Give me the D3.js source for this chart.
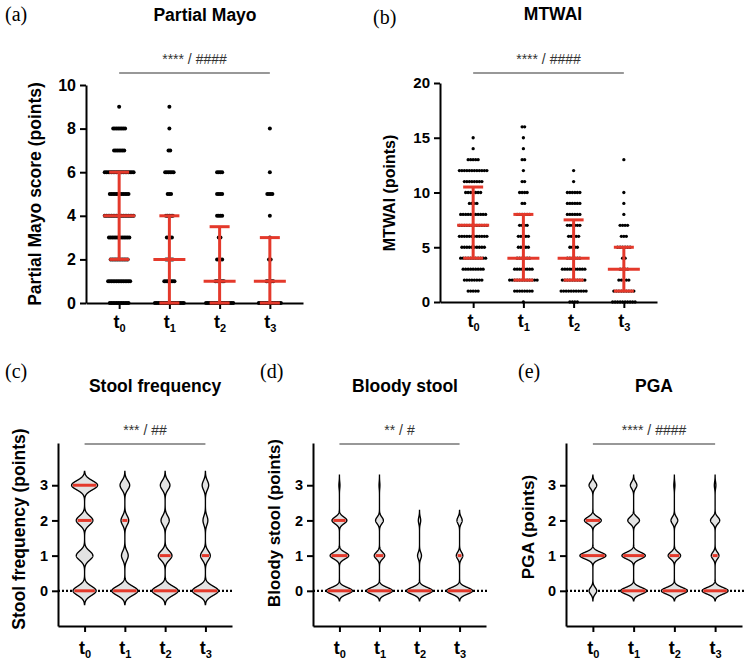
<!DOCTYPE html>
<html><head><meta charset="utf-8">
<script src="https://cdn.jsdelivr.net/npm/d3@7"></script>
<style>
body{margin:0;background:#fff}
svg{display:block}
</style></head><body>
<svg id="c" width="745" height="661"></svg>
<script>
// ---------------- DATA ----------------
const categories = ["t0", "t1", "t2", "t3"];

// (a) Partial Mayo: number of patients per score 0..9 (per time point)
const mayoCounts = [
  [12, 14, 11, 13, 18, 12, 18, 7, 8, 1],
  [18, 7, 5, 4, 5, 3, 6, 2, 1, 1],
  [17, 6, 4, 2, 4, 4, 4, 0, 0, 0],
  [14, 5, 2, 1, 1, 4, 1, 0, 1, 0]
];
const mayoMedian = [4, 2, 1, 1];
const mayoQ1 = [2, 0, 0, 0];
const mayoQ3 = [6, 4, 3.5, 3];
const mayoTicks = [0, 2, 4, 6, 8, 10];

// (b) MTWAI: number of patients per score 0..16
const mtwaiCounts = [
  [0, 5, 8, 9, 11, 10, 12, 12, 11, 4, 7, 8, 12, 5, 1, 1, 0],
  [1, 8, 12, 8, 6, 5, 5, 4, 6, 2, 4, 2, 1, 2, 1, 1, 2],
  [4, 11, 10, 10, 6, 4, 5, 6, 6, 6, 6, 1, 1, 0, 0, 0, 0],
  [10, 9, 5, 4, 2, 6, 3, 4, 1, 1, 1, 0, 0, 1, 0, 0, 0]
];
const mtwaiMedian = [7, 4, 4, 3];
const mtwaiQ1 = [4, 2, 2, 1];
const mtwaiQ3 = [10.5, 8, 7.5, 5];
const mtwaiTicks = [0, 5, 10, 15, 20];

// (c)-(e) sub-scores: number of patients per level 0..3
const levels = [0, 1, 2, 3];
const subTicks = [0, 1, 2, 3];
const stoolCounts = [[32, 23, 23, 36], [27, 7, 8, 10], [19, 10, 6, 7], [16, 6, 3, 4]];
const stoolQuartiles = [[0, 2, 3], [0, 0, 2], [0, 1, 1], [0, 0, 1]];
const bloodCounts = [[49, 35, 28, 2], [30, 12, 9, 1], [33, 5, 3, 0], [20, 5, 4, 0]];
const bloodQuartiles = [[0, 1, 2], [0, 0, 1], [0, 0, 0], [0, 0, 1]];
const pgaCounts = [[15, 51, 33, 15], [20, 18, 9, 5], [23, 11, 6, 1], [17, 5, 6, 1]];
const pgaQuartiles = [[1, 1, 2], [0, 1, 1], [0, 1, 1], [0, 0, 1]];

const sigLabels = ["**** / ####", "**** / ####", "*** / ##", "** / #", "**** / ####"];

// ---------------- DRAWING ----------------
const SANS = "'Liberation Sans', Arial, Helvetica, sans-serif";
const SERIF = "'Liberation Serif', 'Times New Roman', serif";
const RED = "#e4392b";
const svg = d3.select("#c");

function styleAxis(g, fs) {
  g.select(".domain").attr("stroke", "#000").attr("stroke-width", 2);
  g.selectAll(".tick line").attr("stroke", "#000").attr("stroke-width", 2);
  g.selectAll(".tick text").attr("font-family", SANS).attr("font-weight", "bold")
    .attr("font-size", fs).attr("fill", "#000");
}

function drawAxes(c, x, y, ticks) {
  const gy = svg.append("g").attr("transform", `translate(${c.left},0)`)
    .call(d3.axisLeft(y).tickValues(ticks).tickFormat(d3.format("d"))
      .tickSize(6).tickSizeOuter(0).tickPadding(4));
  styleAxis(gy, c.tickFs);
  const gx = svg.append("g").attr("transform", `translate(0,${c.bottom})`)
    .call(d3.axisBottom(x).tickSize(6).tickSizeOuter(0).tickFormat(() => ""));
  styleAxis(gx, c.tickFs);
  gx.selectAll(".tick text").remove();
  gx.selectAll(".tick").each(function (d) {
    const t = d3.select(this).append("text")
      .attr("y", c.xLabDy).attr("text-anchor", "middle")
      .attr("font-family", SANS).attr("font-weight", "bold").attr("fill", "#000");
    t.append("tspan").attr("font-size", 18).text(d.slice(0, 1));
    t.append("tspan").attr("font-size", 11).attr("dy", 4).text(d.slice(1));
  });
}

function drawTexts(c, x, sig) {
  svg.append("text").attr("x", c.tagX).attr("y", c.tagY).attr("font-family", SERIF)
    .attr("font-size", 20).attr("fill", "#000").text(c.tag);
  svg.append("text").attr("x", c.titleX).attr("y", c.titleY).attr("text-anchor", "middle")
    .attr("font-family", SANS).attr("font-weight", "bold").attr("font-size", 17.5)
    .attr("fill", "#000").text(c.title);
  svg.append("text").attr("transform", `translate(${c.ylabX},${c.ylabY}) rotate(-90)`)
    .attr("text-anchor", "middle").attr("font-family", SANS).attr("font-weight", "bold")
    .attr("font-size", c.ylabFs).attr("fill", "#000").text(c.ylab);
  const x0 = x(categories[0]), x3 = x(categories[3]);
  svg.append("line").attr("x1", x0).attr("x2", x3).attr("y1", c.sigY).attr("y2", c.sigY)
    .attr("stroke", "#333").attr("stroke-width", 1.1);
  svg.append("text").attr("x", (x0 + x3) / 2).attr("y", c.sigY - 9.5).attr("text-anchor", "middle")
    .attr("font-family", SANS).attr("font-size", 14).attr("fill", "#333").text(sig);
}

function dotPanel(c, counts, med, q1, q3, ticks, sig) {
  const x = d3.scalePoint().domain(categories).range([c.left, c.right]).padding(0.66);
  const y = d3.scaleLinear().domain(c.yDomain).range([c.bottom, c.top]);
  drawTexts(c, x, sig);
  drawAxes(c, x, y, ticks);
  const g = svg.append("g");
  counts.forEach((row, i) => {
    const cx = x(categories[i]);
    row.forEach((n, v) => {
      for (let k = 0; k < n; k++) {
        g.append("circle").attr("cx", cx + (k - (n - 1) / 2) * c.spacing)
          .attr("cy", y(v)).attr("r", c.r).attr("fill", "#000");
      }
    });
  });
  const e = svg.append("g").attr("stroke", RED).attr("stroke-width", 3);
  categories.forEach((cat, i) => {
    const cx = x(cat);
    e.append("line").attr("x1", cx).attr("x2", cx).attr("y1", y(q1[i])).attr("y2", y(q3[i]));
    [q1[i], q3[i]].forEach(q => e.append("line").attr("x1", cx - 10).attr("x2", cx + 10)
      .attr("y1", y(q)).attr("y2", y(q)));
    e.append("line").attr("x1", cx - 16).attr("x2", cx + 16).attr("y1", y(med[i])).attr("y2", y(med[i]));
  });
}

function violinPanel(c, counts, quarts, sig) {
  const x = d3.scalePoint().domain(categories).range([c.left, c.right]).padding(0.66);
  const y = d3.scaleLinear().domain([-1, 4.2]).range([c.bottom, c.top]);
  drawTexts(c, x, sig);
  svg.append("line").attr("x1", c.left).attr("x2", c.right + 2).attr("y1", y(0)).attr("y2", y(0))
    .attr("stroke", "#000").attr("stroke-width", 2.2).attr("stroke-dasharray", "2,2");
  const W = 13, h = c.bw;
  counts.forEach((cnt, i) => {
    const cx = x(categories[i]);
    const present = levels.filter((v, j) => cnt[j] > 0);
    const lo = d3.min(present) - 3 * h, hi = d3.max(present) + 3 * h;
    const dens = yv => d3.sum(levels, (v, j) => cnt[j] * Math.exp(-((yv - v) ** 2) / (2 * h * h)));
    const grid = d3.range(lo, hi, 0.004); grid.push(hi);
    const dmax = d3.max(grid, dens);
    const half = yv => W * dens(yv) / dmax;
    const area = d3.area().x0(d => cx - half(d)).x1(d => cx + half(d)).y(d => y(d));
    svg.append("path").attr("d", area(grid)).attr("fill", "#e3e3e3")
      .attr("stroke", "#000").attr("stroke-width", 1.35);
    Array.from(new Set(quarts[i])).forEach(q => {
      const w = Math.max(half(q) - 1.3, 0.5);
      svg.append("line").attr("x1", cx - w).attr("x2", cx + w).attr("y1", y(q)).attr("y2", y(q))
        .attr("stroke", RED).attr("stroke-width", 3);
    });
  });
  drawAxes(c, x, y, subTicks);
}

dotPanel({left: 86, right: 303, top: 85, bottom: 303, yDomain: [0, 10], spacing: 1.7, r: 2.0,
  tickFs: 16, xLabDy: 25, tag: "(a)", tagX: 5, tagY: 21, title: "Partial Mayo", titleX: 205, titleY: 21,
  ylab: "Partial Mayo score (points)", ylabX: 41, ylabY: 194, ylabFs: 17.5, sigY: 73},
  mayoCounts, mayoMedian, mayoQ1, mayoQ3, mayoTicks, sigLabels[0]);

dotPanel({left: 440, right: 657, top: 83, bottom: 302, yDomain: [0, 20], spacing: 2.5, r: 1.65,
  tickFs: 15, xLabDy: 25, tag: "(b)", tagX: 373, tagY: 24, title: "MTWAI", titleX: 553, titleY: 19.5,
  ylab: "MTWAI (points)", ylabX: 394.5, ylabY: 193, ylabFs: 16, sigY: 73},
  mtwaiCounts, mtwaiMedian, mtwaiQ1, mtwaiQ3, mtwaiTicks, sigLabels[1]);

violinPanel({left: 58, right: 232, top: 443, bottom: 626, bw: 0.13, tickFs: 14.5, xLabDy: 28,
  tag: "(c)", tagX: 5, tagY: 378, title: "Stool frequency", titleX: 155, titleY: 392,
  ylab: "Stool frequency (points)", ylabX: 24.5, ylabY: 529, ylabFs: 17.5, sigY: 444},
  stoolCounts, stoolQuartiles, sigLabels[2]);

violinPanel({left: 313, right: 486, top: 443, bottom: 626, bw: 0.095, tickFs: 14.5, xLabDy: 28,
  tag: "(d)", tagX: 260, tagY: 378, title: "Bloody stool", titleX: 405, titleY: 392,
  ylab: "Bloody stool (points)", ylabX: 279.5, ylabY: 523, ylabFs: 16.8, sigY: 444},
  bloodCounts, bloodQuartiles, sigLabels[3]);

violinPanel({left: 566, right: 742, top: 443, bottom: 626, bw: 0.095, tickFs: 14.5, xLabDy: 28,
  tag: "(e)", tagX: 518, tagY: 378, title: "PGA", titleX: 654, titleY: 392,
  ylab: "PGA (points)", ylabX: 534, ylabY: 527, ylabFs: 17.2, sigY: 444},
  pgaCounts, pgaQuartiles, sigLabels[4]);
</script></body></html>
